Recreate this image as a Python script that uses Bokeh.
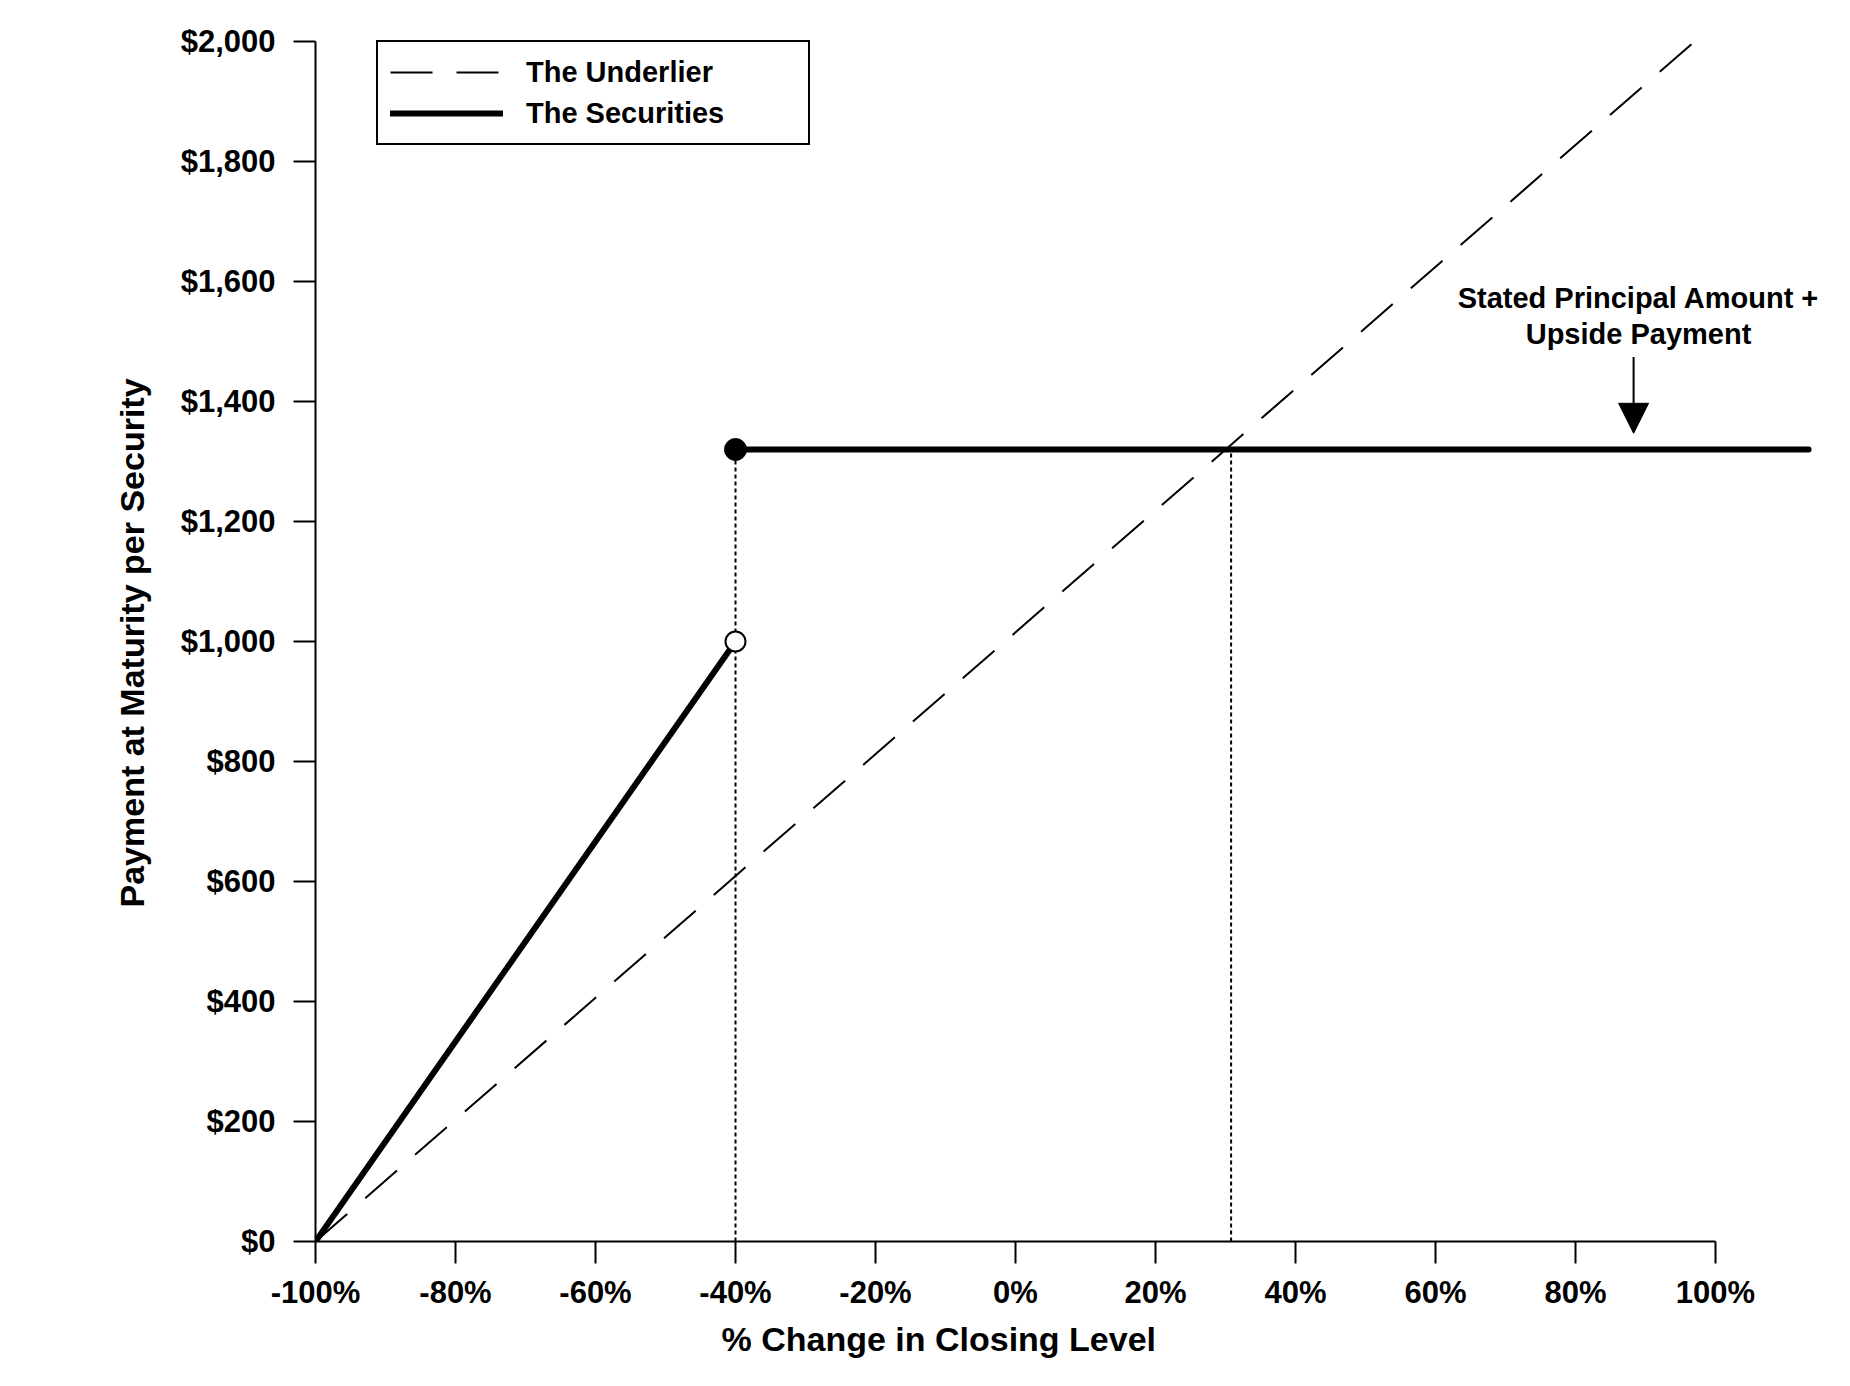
from bokeh.plotting import figure
from bokeh.models import FixedTicker, Legend, LegendItem, Label, Arrow, NormalHead, Range1d, Title
from bokeh.embed import file_html
from bokeh.resources import INLINE

# ---- data ----
x_ticks = [-100, -80, -60, -40, -20, 0, 20, 40, 60, 80, 100]
x_tick_labels = ["-100%", "-80%", "-60%", "-40%", "-20%", "0%", "20%", "40%", "60%", "80%", "100%"]
y_ticks = [0, 200, 400, 600, 800, 1000, 1200, 1400, 1600, 1800, 2000]
y_tick_labels = ["$0", "$200", "$400", "$600", "$800", "$1,000", "$1,200", "$1,400", "$1,600", "$1,800", "$2,000"]

underlier_x = [-100, 97]
underlier_y = [0, 2000]
sec_low_x = [-100, -40]
sec_low_y = [0, 1000]
sec_high_x = [-40, 113.3]
sec_high_y = [1320, 1320]
open_pt_x = [-40]
open_pt_y = [1000]
filled_pt_x = [-40]
filled_pt_y = [1320]
dotted_x = [-40, 30.8]
dotted_bottom = [0, 0]
dotted_top = [1320, 1320]

FONT = "Liberation Sans"

p = figure(output_backend="svg", toolbar_location=None,
           frame_width=1512, frame_height=1233,
           x_range=Range1d(-100, 116), y_range=Range1d(0, 2055),
           min_border_left=315, min_border_right=7, min_border_top=8, min_border_bottom=128,
           background_fill_color="white", border_fill_color="white")
p.outline_line_color = None
p.grid.visible = False

# axes styling
for ax in (p.xaxis[0], p.yaxis[0]):
    ax.axis_line_width = 2
    ax.axis_line_color = "black"
    ax.major_tick_line_width = 2
    ax.major_tick_line_color = "black"
    ax.major_tick_out = 22
    ax.major_tick_in = 0
    ax.minor_tick_line_color = None
    ax.major_label_text_font = FONT
    ax.major_label_text_font_style = "bold"
    ax.major_label_text_font_size = "31px"
    ax.major_label_text_color = "black"

p.xaxis.ticker = FixedTicker(ticks=x_ticks)
p.xaxis.major_label_overrides = {t: l for t, l in zip(x_ticks, x_tick_labels)}
p.xaxis.bounds = (-100, 100)
p.xaxis.major_label_standoff = 11

p.yaxis.ticker = FixedTicker(ticks=y_ticks)
p.yaxis.major_label_overrides = {t: l for t, l in zip(y_ticks, y_tick_labels)}
p.yaxis.bounds = (0, 2000)
p.yaxis.major_label_standoff = 18

# axis titles (as side-panel titles so they can be offset like the original)
p.add_layout(Title(text="% Change in Closing Level", align="left", offset=406, standoff=10,
                   text_font=FONT, text_font_style="bold", text_font_size="34px",
                   text_color="black"), "below")
p.add_layout(Title(text="Payment at Maturity per Security", align="left", offset=334, standoff=53,
                   text_font=FONT, text_font_style="bold", text_font_size="34px",
                   text_color="black"), "left")

# dotted verticals
p.segment(x0=dotted_x, y0=dotted_bottom, x1=dotted_x, y1=dotted_top,
          line_color="black", line_width=2, line_dash="4 3")

# underlier
r_und = p.line(underlier_x, underlier_y, line_color="black", line_width=2, line_dash="42 24")

# securities
r_sec = p.line(sec_low_x, sec_low_y, line_color="black", line_width=6, line_cap="round")
p.line(sec_high_x, sec_high_y, line_color="black", line_width=6, line_cap="round")

p.scatter(filled_pt_x, filled_pt_y, size=22, fill_color="black", line_color="black", line_width=1)
p.scatter(open_pt_x, open_pt_y, size=20, fill_color="white", line_color="black", line_width=2)

# annotation
p.add_layout(Label(x=89.0, y=1573, text="Stated Principal Amount +", text_align="center",
                   text_baseline="middle", text_font=FONT, text_font_style="bold",
                   text_font_size="29px", text_color="black"))
p.add_layout(Label(x=89.0, y=1513, text="Upside Payment", text_align="center",
                   text_baseline="middle", text_font=FONT, text_font_style="bold",
                   text_font_size="29px", text_color="black"))
p.add_layout(Arrow(end=NormalHead(size=30, fill_color="black", line_color="black", line_width=1),
                   x_start=88.3, y_start=1474, x_end=88.3, y_end=1347,
                   line_color="black", line_width=2))

# legend
legend = Legend(items=[LegendItem(label="The Underlier", renderers=[r_und]),
                       LegendItem(label="The Securities", renderers=[r_sec])],
                location=(61, 1096))
legend.label_text_font = FONT
legend.label_text_font_style = "bold"
legend.label_text_font_size = "29px"
legend.label_text_color = "black"
legend.glyph_width = 113
legend.glyph_height = 36
legend.label_height = 36
legend.label_width = 270
legend.label_standoff = 23
legend.spacing = 5
legend.padding = 12
legend.margin = 0
legend.border_line_color = "black"
legend.border_line_width = 2
legend.border_line_alpha = 1.0
legend.background_fill_color = "white"
legend.background_fill_alpha = 1.0
p.add_layout(legend, "center")

open("out.html", "w").write(file_html(p, INLINE))
